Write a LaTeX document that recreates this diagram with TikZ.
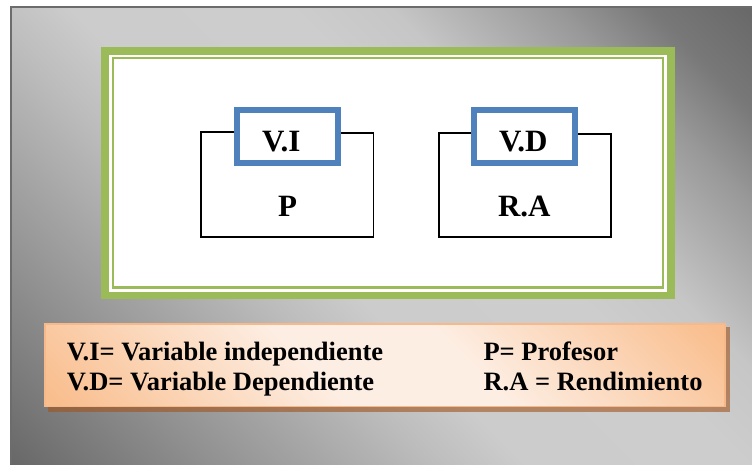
\documentclass[tikz,border=0pt]{standalone}
\usepackage{fontspec}
\setmainfont{Liberation Serif}
\definecolor{gA}{HTML}{686868}
\definecolor{gB}{HTML}{959595}
\definecolor{gC}{HTML}{BCBCBC}
\definecolor{gD}{HTML}{CCCCCC}
\definecolor{gE}{HTML}{CDCDCD}
\definecolor{gF}{HTML}{C6C6C6}
\definecolor{gG}{HTML}{999999}
\definecolor{gH}{HTML}{787878}
\definecolor{gbrd}{HTML}{6C6C6C}
\definecolor{odk}{HTML}{F9BE8E}
\definecolor{olt}{HTML}{FDEEE3}
\definecolor{obrd}{HTML}{F8B98A}
\definecolor{grn}{HTML}{9BBB59}
\definecolor{blu}{HTML}{4F81BD}
\definecolor{shd}{HTML}{A0541E}
\pgfdeclareverticalshading{grayband}{100bp}{color(0bp)=(gA); color(14.6bp)=(gA); color(27.7bp)=(gB); color(39.4bp)=(gC); color(45bp)=(gD); color(58bp)=(gE); color(64bp)=(gF); color(73.7bp)=(gG); color(79.4bp)=(gH); color(85.4bp)=(gA); color(100bp)=(gA)}
\pgfdeclareverticalshading{orangeband}{100bp}{color(0bp)=(odk); color(16bp)=(odk); color(43bp)=(olt); color(58bp)=(olt); color(84bp)=(odk); color(100bp)=(odk)}
\tikzset{
  bluebox/.style={draw=blu, line width=6pt, fill=white, minimum width=101pt, minimum height=53.6pt, inner sep=0pt},
  loopline/.style={draw=black, line width=1.8pt, line join=miter},
  biglbl/.style={font=\bfseries\fontsize{31}{31}\selectfont, inner sep=0pt, anchor=base},
  leglbl/.style={font=\bfseries\fontsize{26.5}{30}\selectfont, inner sep=0pt, anchor=base west},
  legbox/.style={draw=obrd, line width=1.5pt, shading=orangeband, shading angle=-45, minimum width=680pt, minimum height=82.8pt, inner sep=0pt},
  legshadow/.style={fill=shd, opacity=0.6},
}
\begin{document}
\begin{tikzpicture}[x=1pt, y=-1pt]
\useasboundingbox (0,0) rectangle (752,464);
\fill[white] (0,0) rectangle (752,464);
\begin{scope}
\clip (0,0) rectangle (752,464);
% gray background frame
\shade[shading=grayband, shading angle=-45] (10,6) rectangle (752,464);
\draw[gbrd, line width=2pt] (11,464) -- (11,7) -- (752,7);
% green double frame
\fill[grn] (101,47.3) rectangle (674.7,299.3);
\fill[white] (109,55) rectangle (666.7,291.6);
\draw[grn, line width=2.5pt] (113,58.2) rectangle (663.2,287.7);
\end{scope}

% block 1
\node[bluebox] (vi) at (287.5,136.5) {};
\coordinate (a1) at (201,132.3);
\coordinate (a2) at (201,236.7);
\coordinate (a3) at (373.5,236.7);
\coordinate (a4) at (373.5,133);
\draw[loopline] (vi.west |- a1) -- (a1) -- (a2) -- (a3) -- (a4) -- (vi.east |- a4);
\node[biglbl] (vitxt) at (281.3,151.7) {V.I};
\node[biglbl] (ptxt) at (287.5,216) {P};

% block 2
\node[bluebox] (vd) at (524.85,136.5) {};
\coordinate (b1) at (439,133.3);
\coordinate (b2) at (439,236.7);
\coordinate (b3) at (610.7,236.7);
\coordinate (b4) at (610.7,134);
\draw[loopline] (vd.west |- b1) -- (b1) -- (b2) -- (b3) -- (b4) -- (vd.east |- b4);
\node[biglbl] (vdtxt) at (523.3,151.7) {V.D};
\node[biglbl] (ratxt) at (524.3,216.5) {R.A};

% legend
\fill[legshadow] (48,327.3) rectangle (729.5,411.6);
\node[legbox] (leg) at (384.75,365.15) {};
\node[leglbl] (l1) at (66.7,360) {V.I= Variable independiente};
\node[leglbl] (l2) at (66.7,390) {V.D= Variable Dependiente};
\node[leglbl] (l3) at (483.3,360) {P= Profesor};
\node[leglbl] (l4) at (483.3,390) {R.A = Rendimiento};
\end{tikzpicture}
\end{document}
